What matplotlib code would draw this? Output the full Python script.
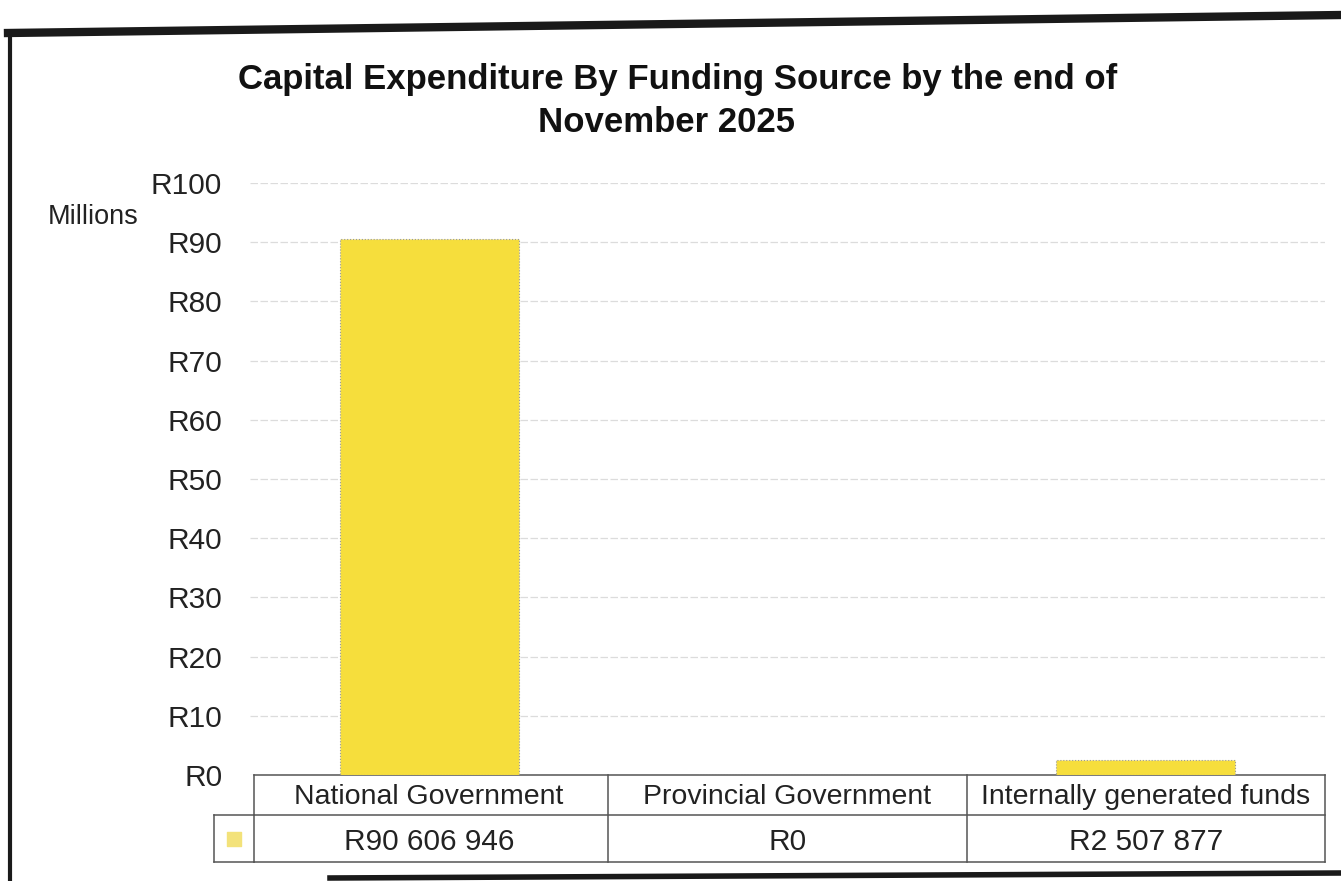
import matplotlib.pyplot as plt
from matplotlib.lines import Line2D
from matplotlib.transforms import blended_transform_factory

plt.rcParams['font.family'] = ['Liberation Sans Narrow', 'Liberation Sans', 'DejaVu Sans']

# Capital expenditure per funding source (Rand)
sources = ['National Government', 'Provincial Government', 'Internally generated funds']
amounts = [90606946, 0, 2507877]
amount_labels = ['R90 606 946', 'R0', 'R2 507 877']
y_ticks = [0, 10, 20, 30, 40, 50, 60, 70, 80, 90, 100]

bar_color = '#F6DE3C'
values_m = [a / 1e6 for a in amounts]

fig = plt.figure(figsize=(13.41, 8.81), dpi=100)
ax = fig.add_axes([250 / 1341, 1 - 775 / 881, 1075 / 1341, 592 / 881])

x = list(range(len(sources)))
ax.bar(x, values_m, width=0.5, color=bar_color, edgecolor='#9a9a9a',
       linewidth=0.8, linestyle=':', zorder=3)

ax.set_xlim(-0.5, len(sources) - 0.5)
ax.set_ylim(0, 100)
ax.set_yticks(y_ticks)
ax.set_yticklabels([f'R{t}' for t in y_ticks], fontsize=21.5, color='#222222')
ax.tick_params(axis='y', length=0, pad=20)
ax.set_xticks([])
ax.grid(axis='y', color='#dcdcdc', linewidth=0.9, linestyle=(0, (6, 2)), zorder=0)
for s in ax.spines.values():
    s.set_visible(False)

fig.text(48 / 1341, 1 - 217 / 881, 'Millions', fontsize=19.5, color='#222222',
         ha='left', va='center')

fig.text(0.505, 1 - 80 / 881, 'Capital Expenditure By Funding Source by the end of',
         fontsize=25, fontweight='bold', ha='center', va='center', color='#111111')
fig.text(0.497, 1 - 123 / 881, 'November 2025',
         fontsize=25, fontweight='bold', ha='center', va='center', color='#111111')

# data table under the axis
trans = blended_transform_factory(ax.transData, ax.transAxes)
px = 1 / 592
top, mid, bot = 0.0, -40 * px, -87 * px
left, right = -0.49, len(sources) - 0.5
line_kw = dict(color='#555555', linewidth=1.1, transform=trans, clip_on=False)
for yy in (top, mid, bot):
    ax.add_line(Line2D([left, right], [yy, yy], **line_kw))
for xx in [left] + [i + 0.5 for i in x]:
    ax.add_line(Line2D([xx, xx], [top, bot], **line_kw))
# legend key cell
key_left = left - 40 / 358
ax.add_line(Line2D([key_left, left], [mid, mid], **line_kw))
ax.add_line(Line2D([key_left, left], [bot, bot], **line_kw))
ax.add_line(Line2D([key_left, key_left], [mid, bot], **line_kw))
ax.scatter([key_left + 20 / 358], [(mid + bot) / 2], marker='s', s=100,
           color='#F3E27A', transform=trans, clip_on=False)

for i, name in enumerate(sources):
    ax.text(i, -22 * px, name, transform=trans, ha='center', va='center',
            fontsize=20.5, color='#222222')
    ax.text(i, -67 * px, amount_labels[i], transform=trans, ha='center',
            va='center', fontsize=21.5, color='#222222')

# page frame
frame = dict(color='#1a1a1a', transform=fig.transFigure, clip_on=False)
fig.add_artist(Line2D([10 / 1341, 10 / 1341], [1 - 33 / 881, 0], linewidth=3, **frame))
fig.add_artist(Line2D([8 / 1341, 1], [1 - 33 / 881, 1 - 15 / 881], linewidth=6, **frame))
fig.add_artist(Line2D([330 / 1341, 1], [1 - 878 / 881, 1 - 873 / 881], linewidth=4, **frame))

fig.savefig('out.png', dpi=100)
